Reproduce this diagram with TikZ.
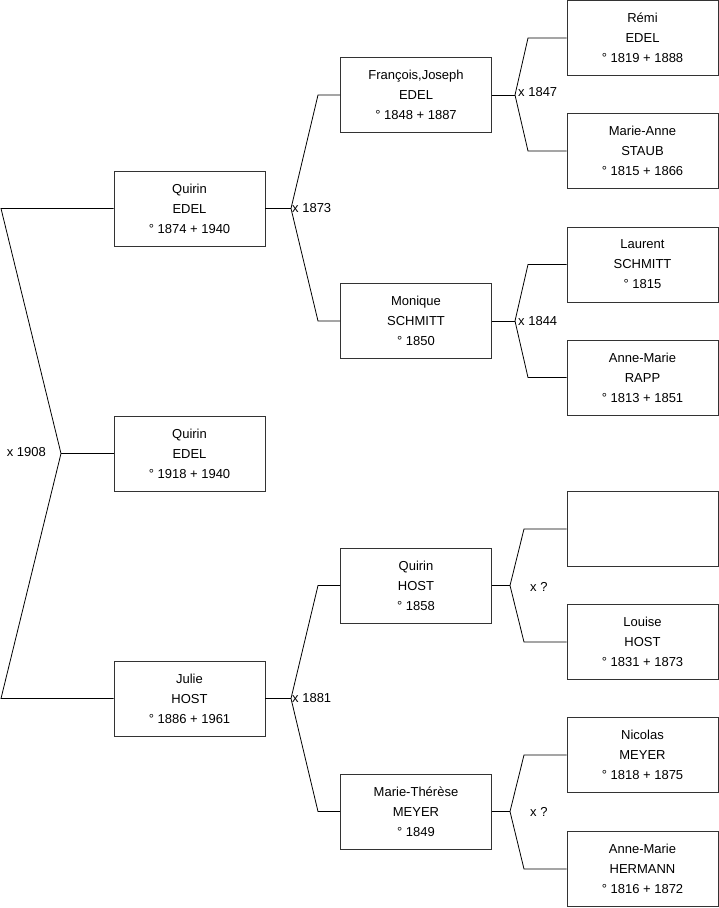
\documentclass[tikz,border=0pt]{standalone}
\usepackage{fontspec}
\setmainfont{Liberation Sans}
\usetikzlibrary{positioning}

\begin{document}
\begin{tikzpicture}[x=1pt, y=-1pt,
    pers/.style={draw=black!80, line width=0.8pt, minimum width=151pt, minimum height=75pt, inner sep=0pt, align=center, font=\fontsize{13}{20}\selectfont},
    lnk/.style={black, line width=0.8pt},
    mar/.style={font=\fontsize{13}{15}\selectfont, inner sep=0pt, anchor=west}]
    \useasboundingbox (0,0) rectangle (719,908);
    % children / parents / grandparents
    \node[pers] (c1) at (189.5,208.5) {Quirin\\EDEL\\° 1874 + 1940};
    \node[pers] (c2) at (189.5,453.5) {Quirin\\EDEL\\° 1918 + 1940};
    \node[pers] (c3) at (189.5,698.5) {Julie\\HOST\\° 1886 + 1961};
    \node[pers] (p1) at (416,95) {François,Joseph\\EDEL\\° 1848 + 1887};
    \node[pers] (p2) at (416,321) {Monique\\SCHMITT\\° 1850};
    \node[pers] (p3) at (416,585.5) {Quirin\\HOST\\° 1858};
    \node[pers] (p4) at (416,811.5) {Marie-Thérèse\\MEYER\\° 1849};
    \node[pers] (g1) at (642.5,38) {Rémi\\EDEL\\° 1819 + 1888};
    \node[pers] (g2) at (642.5,151) {Marie-Anne\\STAUB\\° 1815 + 1866};
    \node[pers] (g3) at (642.5,264.5) {Laurent\\SCHMITT\\° 1815};
    \node[pers] (g4) at (642.5,377.5) {Anne-Marie\\RAPP\\° 1813 + 1851};
    \node[pers] (g5) at (642.5,529) {};
    \node[pers] (g6) at (642.5,642) {Louise\\HOST\\° 1831 + 1873};
    \node[pers] (g7) at (642.5,755) {Nicolas\\MEYER\\° 1818 + 1875};
    \node[pers] (g8) at (642.5,869) {Anne-Marie\\HERMANN\\° 1816 + 1872};

    % marriage forks
    \coordinate (t0) at (1,208.5);
    \coordinate (v0) at (61,453.5);
    \coordinate (b0) at (1,698.5);
    \draw[lnk] (c1.west) -- (t0) -- (v0) -- (b0) -- (c3.west);
    \draw[lnk] (v0) -- (c2.west);
    \node[mar, anchor=east] (m0) at (46,452) {x 1908};

    \coordinate (v1) at (291,208.5);
    \coordinate (v2) at (291,698.5);
    \coordinate (v3) at (515,95);
    \coordinate (v4) at (515,321);
    \coordinate (v5) at (510,585.5);
    \coordinate (v6) at (510,811.5);
    \foreach \s/\v/\a/\b/\d in {c1/v1/p1/p2/27,c3/v2/p3/p4/27,p1/v3/g1/g2/13,p2/v4/g3/g4/13,p3/v5/g5/g6/14,p4/v6/g7/g8/14} {
        \draw[lnk] (\s.east) -- (\v);
        \draw[lnk] (\v) -- ([xshift=\d pt]\v |- \a.west) -- (\a.west);
        \draw[lnk] (\v) -- ([xshift=\d pt]\v |- \b.west) -- (\b.west);
    }
    \node[mar] (m1) at (292,208.5) {x 1873};
    \node[mar] (m2) at (292,698.5) {x 1881};
    \node[mar] (m3) at (518,92) {x 1847};
    \node[mar] (m4) at (518,321) {x 1844};
    \node[mar] (m5) at (530,587) {x ?};
    \node[mar] (m6) at (530,811.5) {x ?};
\end{tikzpicture}
\end{document}
